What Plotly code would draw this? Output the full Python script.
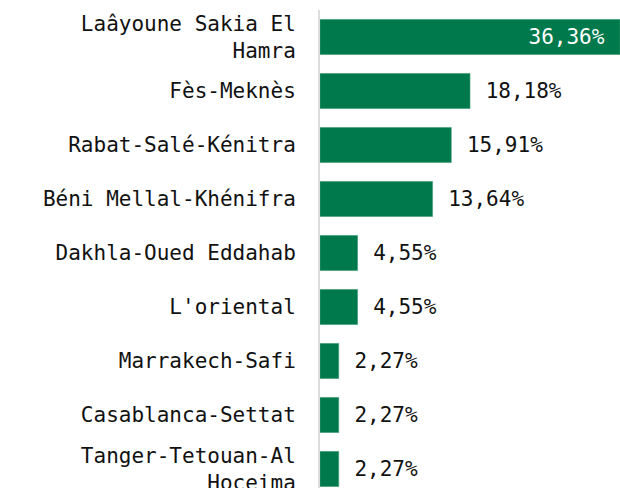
import plotly.graph_objects as go

regions = [
    "Laâyoune Sakia El<br>Hamra",
    "Fès-Meknès",
    "Rabat-Salé-Kénitra",
    "Béni Mellal-Khénifra",
    "Dakhla-Oued Eddahab",
    "L'oriental",
    "Marrakech-Safi",
    "Casablanca-Settat",
    "Tanger-Tetouan-Al<br>Hoceima",
]
shares = [36.36, 18.18, 15.91, 13.64, 4.55, 4.55, 2.27, 2.27, 2.27]

GREEN = "#007a4d"
FONT = "DejaVu Sans Mono"
NB = "\u00a0"

labels = [NB + f"{v:.2f}%".replace(".", ",") + NB for v in shares]
positions = ["inside" if v > 30 else "outside" for v in shares]

fig = go.Figure(go.Bar(
    x=shares, y=regions, orientation="h",
    marker=dict(color=GREEN, line=dict(color="#3f9a74", width=0.6)),
    text=labels, textposition=positions, insidetextanchor="end",
    insidetextfont=dict(color="white", family=FONT, size=21),
    outsidetextfont=dict(color="#111", family=FONT, size=21),
    cliponaxis=False, hoverinfo="skip",
))

fig.update_layout(
    width=620, height=488,
    margin=dict(l=320, r=0, t=10, b=0, autoexpand=False),
    paper_bgcolor="white", plot_bgcolor="white",
    bargap=0.35, showlegend=False,
    font=dict(family=FONT, size=21, color="#111"),
)
fig.update_xaxes(visible=False, range=[0, 36.36], fixedrange=True, automargin=False)
fig.update_yaxes(range=[8.352, -0.5], showgrid=False, showline=True, automargin=False,
                 linecolor="#dcdcdc", linewidth=2, ticks="",
                 ticklabelstandoff=18, tickfont=dict(family=FONT, size=21, color="#111"))

# page has a default 8px body margin, drop it so the chart sits flush
fig.write_html("out.html", config={"displayModeBar": False},
               post_script="document.body.style.margin='0';document.body.style.overflow='hidden';")
